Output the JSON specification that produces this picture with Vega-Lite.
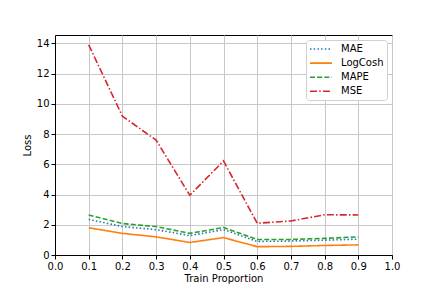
{
  "$schema": "https://vega.github.io/schema/vega-lite/v6.json",
  "width": 337,
  "height": 220,
  "autosize": "none",
  "padding": {"left": 55, "top": 35, "right": 44, "bottom": 36},
  "background": "white",
  "config": {
    "font": "DejaVu Sans",
    "view": {"stroke": "black", "strokeWidth": 1},
    "axis": {
      "domainColor": "black",
      "tickColor": "black",
      "gridColor": "#c8c8c8",
      "gridWidth": 1,
      "labelColor": "black",
      "titleColor": "black",
      "labelFontSize": 10,
      "titleFontSize": 10,
      "titleFontWeight": "normal",
      "tickSize": 4,
      "labelPadding": 2,
      "labelFlush": false
    },
    "legend": {
      "title": null,
      "orient": "top-right",
      "offset": 5,
      "fillColor": "white",
      "strokeColor": "#d0d0d0",
      "cornerRadius": 3,
      "padding": 3,
      "labelFontSize": 10,
      "labelColor": "black",
      "symbolType": "M-2.2,0H2.2",
      "symbolSize": 100,
      "symbolStrokeWidth": 1.6,
      "symbolOffset": 6,
      "rowPadding": 3.1,
      "labelOffset": 14
    }
  },
  "data": {
    "values": [
      {"p": 0.1, "metric": "MAE", "loss": 2.35},
      {"p": 0.2, "metric": "MAE", "loss": 1.88},
      {"p": 0.3, "metric": "MAE", "loss": 1.68},
      {"p": 0.4, "metric": "MAE", "loss": 1.28},
      {"p": 0.5, "metric": "MAE", "loss": 1.68},
      {"p": 0.6, "metric": "MAE", "loss": 0.9},
      {"p": 0.7, "metric": "MAE", "loss": 0.92},
      {"p": 0.8, "metric": "MAE", "loss": 0.98},
      {"p": 0.9, "metric": "MAE", "loss": 1.05},
      {"p": 0.1, "metric": "LogCosh", "loss": 1.8},
      {"p": 0.2, "metric": "LogCosh", "loss": 1.43},
      {"p": 0.3, "metric": "LogCosh", "loss": 1.2},
      {"p": 0.4, "metric": "LogCosh", "loss": 0.83},
      {"p": 0.5, "metric": "LogCosh", "loss": 1.15},
      {"p": 0.6, "metric": "LogCosh", "loss": 0.55},
      {"p": 0.7, "metric": "LogCosh", "loss": 0.57},
      {"p": 0.8, "metric": "LogCosh", "loss": 0.63},
      {"p": 0.9, "metric": "LogCosh", "loss": 0.67},
      {"p": 0.1, "metric": "MAPE", "loss": 2.65},
      {"p": 0.2, "metric": "MAPE", "loss": 2.08},
      {"p": 0.3, "metric": "MAPE", "loss": 1.88},
      {"p": 0.4, "metric": "MAPE", "loss": 1.43},
      {"p": 0.5, "metric": "MAPE", "loss": 1.82},
      {"p": 0.6, "metric": "MAPE", "loss": 1.03},
      {"p": 0.7, "metric": "MAPE", "loss": 1.03},
      {"p": 0.8, "metric": "MAPE", "loss": 1.1},
      {"p": 0.9, "metric": "MAPE", "loss": 1.2},
      {"p": 0.1, "metric": "MSE", "loss": 13.9},
      {"p": 0.2, "metric": "MSE", "loss": 9.18},
      {"p": 0.3, "metric": "MSE", "loss": 7.6},
      {"p": 0.4, "metric": "MSE", "loss": 3.95},
      {"p": 0.5, "metric": "MSE", "loss": 6.22},
      {"p": 0.6, "metric": "MSE", "loss": 2.1},
      {"p": 0.7, "metric": "MSE", "loss": 2.25},
      {"p": 0.8, "metric": "MSE", "loss": 2.66},
      {"p": 0.9, "metric": "MSE", "loss": 2.65}
    ]
  },
  "mark": {"type": "line", "strokeWidth": 1.6},
  "encoding": {
    "x": {
      "field": "p",
      "type": "quantitative",
      "title": "Train Proportion",
      "scale": {"domain": [0, 1], "nice": false},
      "axis": {"values": [0, 0.1, 0.2, 0.3, 0.4, 0.5, 0.6, 0.7, 0.8, 0.9, 1.0], "format": ".1f", "titlePadding": 2}
    },
    "y": {
      "field": "loss",
      "type": "quantitative",
      "title": "Loss",
      "scale": {"domain": [0, 14.55], "nice": false, "zero": true},
      "axis": {"values": [0, 2, 4, 6, 8, 10, 12, 14], "titlePadding": 4}
    },
    "color": {
      "field": "metric",
      "type": "nominal",
      "scale": {"domain": ["MAE", "LogCosh", "MAPE", "MSE"], "range": ["#1f77b4", "#ff7f0e", "#2ca02c", "#d62728"]}
    },
    "strokeDash": {
      "field": "metric",
      "type": "nominal",
      "scale": {"domain": ["MAE", "LogCosh", "MAPE", "MSE"], "range": [[1.5, 2.2], [1, 0], [5, 2.2], [7, 2.2, 1.5, 2.2]]}
    }
  }
}
